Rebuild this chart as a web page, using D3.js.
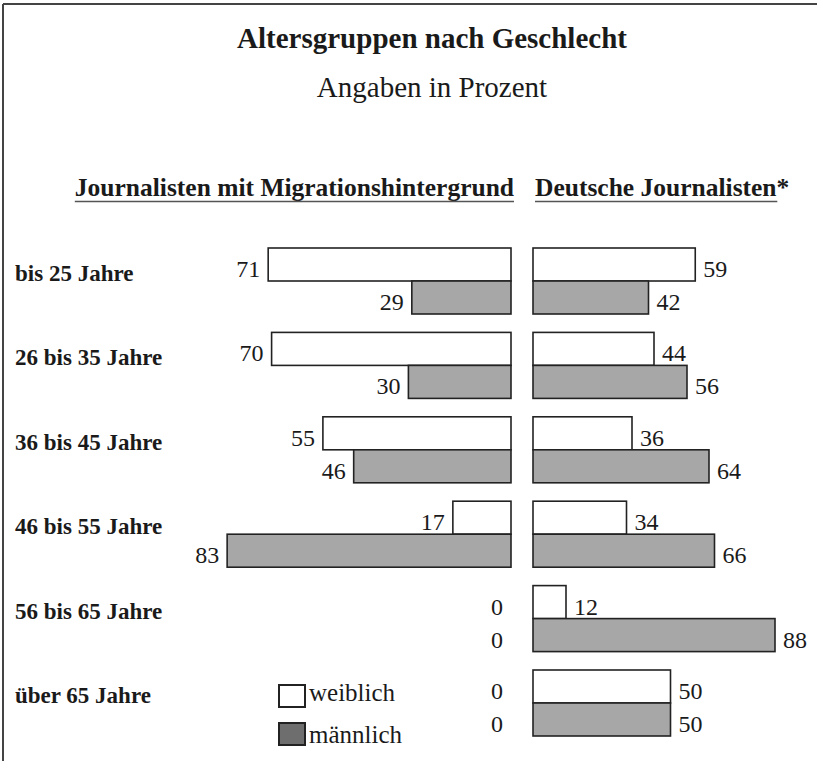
<!DOCTYPE html>
<html lang="de">
<head>
    <meta charset="UTF-8">
    <title>Altersgruppen nach Geschlecht</title>
    <style>
        body {
            margin: 0;
            padding: 0;
            background-color: #fff;
            overflow: hidden;
        }

        #chart text {
            font-family: "Liberation Serif", "DejaVu Serif", serif;
            fill: #1a1a1a;
        }
    </style>
</head>
<body>
    <div id="chart"></div>

    <script src="https://cdn.jsdelivr.net/npm/d3@7"></script>
    <script>
        // age groups (rows)
        const ageGroups = ['bis 25 Jahre', '26 bis 35 Jahre', '36 bis 45 Jahre',
            '46 bis 55 Jahre', '56 bis 65 Jahre', 'über 65 Jahre'];
        const genders = ['weiblich', 'männlich'];

        // Journalisten mit Migrationshintergrund
        const migWeiblich = [71, 70, 55, 17, 0, 0];
        const migMaennlich = [29, 30, 46, 83, 0, 0];

        // Deutsche Journalisten*
        const deWeiblich = [59, 44, 36, 34, 12, 50];
        const deMaennlich = [42, 56, 64, 66, 88, 50];

        const width = 817;
        const height = 761;

        const svg = d3.select('#chart')
            .append('svg')
            .attr('width', width)
            .attr('height', height);

        // frame (top + left edge only, like the scan)
        svg.append('line')
            .attr('x1', 3).attr('y1', 4).attr('x2', width).attr('y2', 4)
            .attr('stroke', '#444').attr('stroke-width', 2);
        svg.append('line')
            .attr('x1', 3).attr('y1', 4).attr('x2', 3).attr('y2', height)
            .attr('stroke', '#444').attr('stroke-width', 2);

        // titles
        svg.append('text')
            .attr('x', 432).attr('y', 48)
            .attr('text-anchor', 'middle')
            .attr('font-size', '29px')
            .attr('font-weight', 'bold')
            .text('Altersgruppen nach Geschlecht');

        svg.append('text')
            .attr('x', 432).attr('y', 97)
            .attr('text-anchor', 'middle')
            .attr('font-size', '29px')
            .text('Angaben in Prozent');

        // scales
        const y = d3.scaleBand()
            .domain(ageGroups)
            .range([248, 736])
            .paddingInner(0.218)
            .paddingOuter(0);

        const yGender = d3.scaleBand()
            .domain(genders)
            .range([0, y.bandwidth()]);

        const xLeft = d3.scaleLinear().domain([0, 100]).range([511, 169]);
        const xRight = d3.scaleLinear().domain([0, 100]).range([533, 808]);

        // panel headers with underline
        function header(text, x, anchor) {
            const t = svg.append('text')
                .attr('x', x).attr('y', 196)
                .attr('text-anchor', anchor)
                .attr('font-size', '25.5px')
                .attr('font-weight', 'bold')
                .text(text);
            const bb = t.node().getBBox();
            let w = bb.width;
            if (text.endsWith('*')) w -= 12;
            svg.append('line')
                .attr('x1', bb.x).attr('x2', bb.x + w)
                .attr('y1', 201.5).attr('y2', 201.5)
                .attr('stroke', '#555').attr('stroke-width', 1.5);
        }
        header('Journalisten mit Migrationshintergrund', 514, 'end');
        header('Deutsche Journalisten*', 535, 'start');

        // row labels
        svg.append('g')
            .selectAll('text')
            .data(ageGroups)
            .enter().append('text')
            .attr('x', 15)
            .attr('y', d => y(d) + 33)
            .attr('font-size', '23px')
            .attr('font-weight', 'bold')
            .text(d => d);

        // build rows
        const leftData = [];
        const rightData = [];
        ageGroups.forEach((g, i) => {
            leftData.push({ group: g, gender: 'weiblich', value: migWeiblich[i] });
            leftData.push({ group: g, gender: 'männlich', value: migMaennlich[i] });
            rightData.push({ group: g, gender: 'weiblich', value: deWeiblich[i] });
            rightData.push({ group: g, gender: 'männlich', value: deMaennlich[i] });
        });

        const fill = { 'weiblich': '#ffffff', 'männlich': '#a7a7a7' };

        // left panel, bars grow to the left
        const left = svg.append('g');
        left.selectAll('rect')
            .data(leftData.filter(d => d.value > 0))
            .enter().append('rect')
            .attr('x', d => xLeft(d.value))
            .attr('y', d => y(d.group) + yGender(d.gender))
            .attr('width', d => xLeft(0) - xLeft(d.value))
            .attr('height', yGender.bandwidth())
            .attr('fill', d => fill[d.gender])
            .attr('stroke', '#222')
            .attr('stroke-width', 1.6);

        left.selectAll('text')
            .data(leftData)
            .enter().append('text')
            .attr('x', d => xLeft(d.value) - 8)
            .attr('y', d => y(d.group) + yGender(d.gender) + yGender.bandwidth() - 4)
            .attr('text-anchor', 'end')
            .attr('font-size', '24px')
            .text(d => d.value);

        // right panel, bars grow to the right
        const right = svg.append('g');
        right.selectAll('rect')
            .data(rightData)
            .enter().append('rect')
            .attr('x', xRight(0))
            .attr('y', d => y(d.group) + yGender(d.gender))
            .attr('width', d => xRight(d.value) - xRight(0))
            .attr('height', yGender.bandwidth())
            .attr('fill', d => fill[d.gender])
            .attr('stroke', '#222')
            .attr('stroke-width', 1.6);

        right.selectAll('text')
            .data(rightData)
            .enter().append('text')
            .attr('x', d => xRight(d.value) + 8)
            .attr('y', d => y(d.group) + yGender(d.gender) + yGender.bandwidth() - 4)
            .attr('font-size', '24px')
            .text(d => d.value);

        // legend
        const legendFill = { 'weiblich': '#ffffff', 'männlich': '#6e6e6e' };
        const legend = svg.append('g')
            .selectAll('g')
            .data(genders)
            .enter().append('g')
            .attr('transform', (d, i) => `translate(279, ${685 + i * 38})`);

        legend.append('rect')
            .attr('width', 26)
            .attr('height', 22)
            .attr('fill', d => legendFill[d])
            .attr('stroke', '#222')
            .attr('stroke-width', 2);

        legend.append('text')
            .attr('x', 30)
            .attr('y', (d, i) => 16 + i * 4)
            .attr('font-size', '25px')
            .text(d => d);
    </script>
</body>
</html>
